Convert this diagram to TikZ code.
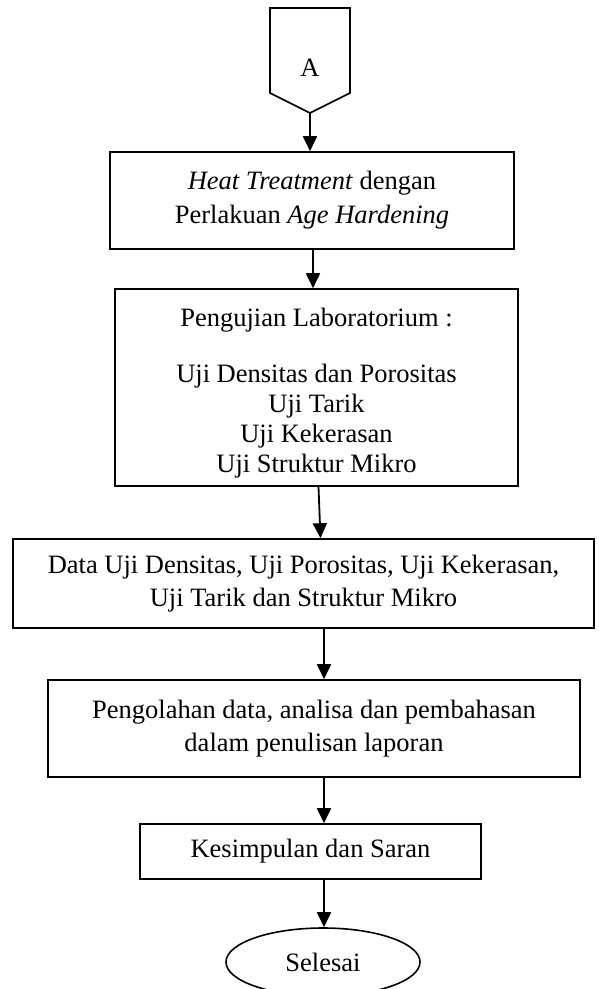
\documentclass[tikz,border=0pt]{standalone}
\usepackage{fontspec}
\setmainfont{Liberation Serif}
\usetikzlibrary{arrows.meta,shapes.geometric}
\begin{document}
\begin{tikzpicture}[x=1pt,y=-1pt,
  box/.style={draw,line width=1.6pt,inner sep=0pt,align=center,
    font=\fontsize{26.5}{31}\selectfont},
  arr/.style={line width=1.8pt,-{Triangle[length=15pt,width=14pt]}},
  ]
\useasboundingbox (0,0) rectangle (599,989);
% off-page connector A
\node[font=\fontsize{26.5}{31}\selectfont, inner sep=0pt] (A) at (310,68) {A};
\draw[line width=1.6pt, line join=miter] (270,8) -- (350,8) -- (350,93)
  -- (310,113) coordinate (Apt) -- (270,93) -- cycle;
% boxes
\node[box, minimum width=404pt, minimum height=97pt,
  font=\fontsize{26.5}{34}\selectfont] (heat) at (312,200.5)
  {\textit{Heat Treatment} dengan\\Perlakuan \textit{Age Hardening}};
\node[box, minimum width=403pt, minimum height=197pt,
  font=\fontsize{26.5}{30}\selectfont] (peng) at (316.5,387.5)
  {\rule{0pt}{29pt}Pengujian Laboratorium :\\[26pt]Uji Densitas dan Porositas\\Uji Tarik\\Uji Kekerasan\\Uji Struktur Mikro};
\node[box, minimum width=581pt, minimum height=89pt,
  font=\fontsize{26.5}{33}\selectfont] (data) at (303.5,583.5)
  {Data Uji Densitas, Uji Porositas, Uji Kekerasan,\\Uji Tarik dan Struktur Mikro};
\node[box, minimum width=532pt, minimum height=97pt,
  font=\fontsize{26.5}{33}\selectfont] (pol) at (314,728.5)
  {Pengolahan data, analisa dan pembahasan\\dalam penulisan laporan};
\node[box, minimum width=341pt, minimum height=55pt] (kes) at (310.5,851.5)
  {Kesimpulan dan Saran};
\node[box, ellipse, minimum width=194pt, minimum height=68pt] (sel) at (323,962)
  {Selesai};
% connectors
\draw[arr] (Apt) -- (Apt |- heat.north);
\draw[arr] ([xshift=1pt]heat.south) -- ([xshift=-3.5pt]peng.north);
\draw[arr] ([xshift=2pt]peng.south) -- ([xshift=17pt]data.north);
\draw[arr] ([xshift=20.5pt]data.south) -- ([xshift=10pt]pol.north);
\draw[arr] ([xshift=10pt]pol.south) -- ([xshift=13.5pt]kes.north);
\draw[arr] ([xshift=13.5pt]kes.south) -- ([xshift=1pt]sel.north);
\end{tikzpicture}
\end{document}
